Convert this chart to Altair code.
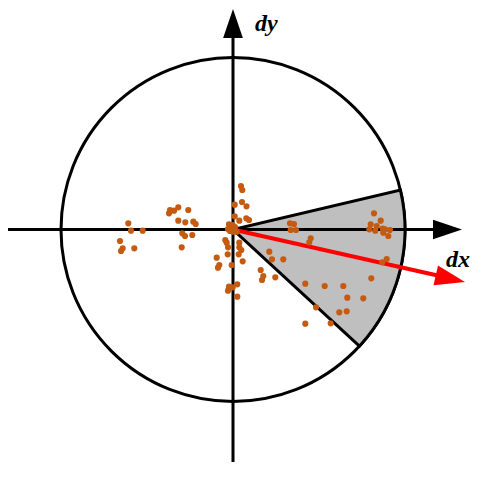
import math
import altair as alt
import pandas as pd

# ---- readings (units: pixels of the reference, origin at the circle centre) ----
R = 172  # circle radius

dot_x = [-104.7, -102, -90.3, -113, -110.3, -112, -98.7, -63, -59, -64, -54.7, -44.7,
         -54.7, -47.7, -39.7, -37.3, -50.7, -48, -40.7, -51.3,
         8, 9.3, 1.7, 9, 13.5, 1.7, 13.3, 16, 6.3, -4, -0.3, -3, 0.3, 3.7, -2, -5, 2,
         -7.7, -6.3, -5, 6.3, 6.3, 8.3, -5.3, 5.7, 9.7, -16.3, -13.7, -15, -1.3,
         4.3, -0.3, -4, -5, 4.3,
         57, 61, 57.7, 63, 77.7, 76.3, 141, 147.7, 137.7, 143.7, 136.3, 142.3, 149.7,
         152, 157, 150.3, 155.3, 153.7, 149.3, 138.3, 36.3, 39, 50.3, 27.7, 30.3, 29,
         42.3, 72.3, 91.7, 110.3, 114.3, 130.3, 83, 106.3, 113.7, 72.3, 97.7]
dot_y = [6.2, -1.2, -1.2, -11.5, -18.8, -21.5, -18.8, 19.5, 18.8, 16.2, 22.2, 19.5,
         8.8, 7.2, 7.8, 5.5, -3.8, -6.5, -5.5, -17.8,
         43.5, 39.5, 24.8, 27.5, 23.2, 13.2, 11.2, 9.5, 8.8, 5.2, 4.5, -1.5, -2.2, -2.2, 1.5, 0.5, 2.5,
         -10.5, -13.2, -17.8, -13.2, -17.8, -20.5, -24.8, -24.8, -31.8, -28.2, -35.5, -38.2, -35.5,
         -54.8, -57.8, -57.2, -61.2, -67.2,
         6.2, 5.5, -0.5, -0.5, -8.8, -12.8, 16.2, 8.8, 5.2, 3.5, 0.2, -1.2, 0.8,
         0.2, -0.5, -3.2, -6.5, -29.5, -32.8, -48.8, -22.2, -29.8, -29.8, -40.5, -46.5, -50.5,
         -47.8, -54.2, -56.5, -56.5, -68.2, -68.8, -77.8, -82.8, -81.8, -94.2, -93.8]

# sector edges, degrees counter-clockwise from +x
sector_from = 13.3
sector_to = -42.7
circle_from = 90
circle_to = -270

# axis lines and red vector
rule_x = [-231, 0]
rule_y = [0, -246.5]
rule_x2 = [212, 0]
rule_y2 = [0, 195]
red_x = [0]
red_y = [0]
red_x2 = [209]
red_y2 = [-47]

# arrow tips
head_x = [229, 0]
head_y = [0, 220.5]
head_ang = [0, 270]
red_head_x = [232]
red_head_y = [-52.5]
red_head_ang = 12.75

labels = ["dy", "dx"]
label_x = [22, 213]
label_y = [198.5, -37.5]

# ---- chart ----
W, H = 468, 454
xs = alt.Scale(domain=[-225, 243], nice=False, zero=False)
ys = alt.Scale(domain=[-232.5, 221.5], nice=False, zero=False)
ts = alt.Scale(domain=[90, -270], range=[0, 2 * math.pi])

X = lambda f: alt.X(f, type="quantitative", scale=xs, axis=None)
Y = lambda f: alt.Y(f, type="quantitative", scale=ys, axis=None)

arc_df = pd.DataFrame({"x": [0, 0], "y": [0, 0],
                       "a1": [circle_from, sector_from],
                       "a2": [circle_to, sector_to],
                       "kind": ["circle", "sector"]})

circle = alt.Chart(arc_df).transform_filter(alt.datum.kind == "circle").mark_arc(
    radius=R, filled=False, stroke="black", strokeWidth=3
).encode(x=X("x"), y=Y("y"),
         theta=alt.Theta("a1:Q", scale=ts, stack=None), theta2="a2:Q")

sector = alt.Chart(arc_df).transform_filter(alt.datum.kind == "sector").mark_arc(
    radius=R, fill="#BFBFBF", stroke="black", strokeWidth=3, strokeJoin="miter"
).encode(x=X("x"), y=Y("y"),
         theta=alt.Theta("a1:Q", scale=ts, stack=None), theta2="a2:Q")

rules = alt.Chart(pd.DataFrame({"x": rule_x, "y": rule_y, "x2": rule_x2, "y2": rule_y2})).mark_rule(
    color="black", strokeWidth=3, strokeCap="butt"
).encode(x=X("x"), y=Y("y"), x2="x2:Q", y2="y2:Q")

red = alt.Chart(pd.DataFrame({"x": red_x, "y": red_y, "x2": red_x2, "y2": red_y2})).mark_rule(
    color="#FF0000", strokeWidth=4, strokeCap="butt"
).encode(x=X("x"), y=Y("y"), x2="x2:Q", y2="y2:Q")

arrow_path = "M0,0 L-1,-0.34 L-1,0.34 Z"

heads = alt.Chart(pd.DataFrame({"x": head_x, "y": head_y, "ang": head_ang})).mark_point(
    shape=arrow_path, filled=True, color="black", opacity=1, size=4 * 29 * 29, strokeWidth=0
).encode(x=X("x"), y=Y("y"), angle=alt.Angle("ang:Q", scale=None))

red_head = alt.Chart(pd.DataFrame({"x": red_head_x, "y": red_head_y})).mark_point(
    shape=arrow_path, filled=True, color="#FF0000", opacity=1, size=4 * 30 * 30,
    strokeWidth=0, angle=red_head_ang
).encode(x=X("x"), y=Y("y"))

dots = alt.Chart(pd.DataFrame({"x": dot_x, "y": dot_y})).mark_circle(
    color="#C55A11", opacity=1, size=38
).encode(x=X("x"), y=Y("y"))

text = alt.Chart(pd.DataFrame({"t": labels, "x": label_x, "y": label_y})).mark_text(
    font="Liberation Serif", fontStyle="italic", fontWeight="bold", fontSize=24,
    align="left", baseline="alphabetic", color="black"
).encode(x=X("x"), y=Y("y"), text="t:N")

chart = alt.layer(circle, sector, rules, red, heads, red_head, dots, text).properties(
    width=W, height=H, padding=0, autosize=alt.AutoSizeParams(type="none")
).configure_view(strokeWidth=0)

chart.save("out.html", embed_options={"renderer": "svg", "actions": False})
